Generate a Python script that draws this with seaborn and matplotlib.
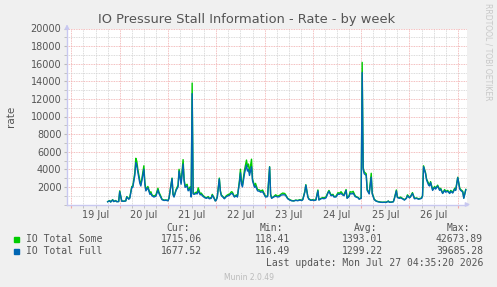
import pandas as pd
import numpy as np
import matplotlib
matplotlib.use("Agg")
import matplotlib.pyplot as plt
import matplotlib.dates as mdates
from matplotlib.ticker import MultipleLocator, FuncFormatter
from matplotlib.patches import Rectangle
import seaborn as sns

# Datos (horas desde 19 Jul 00:00)
hours = [18, 19, 19.5, 20.5, 21, 22, 22.5, 23.5, 24, 25, 26, 27, 27.5, 28.5, 29, 30, 30.5, 31.5, 32, 32.5,
         33, 34, 34.5, 35, 36, 36.5, 37, 38, 39, 39.5, 40, 41, 42, 43, 43.5, 44.5, 45, 46, 47, 48,
         48.5, 50, 50.5, 51, 52, 53, 53.5, 54.5, 55.5, 56, 56.5, 57.5, 58, 59, 59.5, 60, 60.5, 61, 62, 62.5,
         63, 64, 64.5, 65.5, 66, 67, 68, 68.5, 69.5, 70, 71, 71.5, 72, 72.5, 73.5, 74, 74.5, 75.5, 76, 77,
         78, 78.5, 79.5, 80, 81, 82, 82.5, 83.5, 84, 84.5, 85, 86, 87, 87.5, 88, 88.5, 89.5, 90, 91, 91.5,
         92.5, 93.5, 94, 95, 96, 96.5, 97.5, 98.5, 99, 99.5, 100.5, 101.5, 102.5, 103.5, 104, 105, 106, 106.5, 107.5, 108.5,
         109.5, 110.5, 111.5, 112.5, 113.5, 114.5, 115, 116, 116.5, 117.5, 118, 119, 120, 120.5, 121.5, 122.5, 123, 124, 125, 125.5,
         126.5, 127.5, 128, 129, 130, 130.5, 131.5, 132.5, 133, 134, 135, 135.5, 136.5, 137, 138, 138.5, 139.5, 140, 141, 141.5,
         142.5, 143, 144, 144.5, 145, 145.5, 146.5, 147, 148, 149, 149.5, 150.5, 151.5, 152.5, 153.5, 154.5, 155.5, 156.5, 157.5, 158,
         159, 160, 160.5, 161.5, 162, 163, 163.5, 164.5, 165.5, 166.5, 167, 168, 168.5, 169.5, 170.5, 171.5, 172.5, 173.5, 174, 174.5,
         175, 176, 176.5, 177.5, 178, 178.5, 179.5, 180.5, 181, 182, 183, 183.5, 184.5, 185.5, 186, 187, 188, 188.5, 189.5, 190.5,
         191, 192, 193, 193.5, 194.5, 195, 196]

io_some = [330, 450, 300, 550, 350, 450, 330, 350, 1550, 400, 380, 420, 900, 650, 800, 2050, 2100, 3600, 5250, 4900,
           4000, 2700, 2300, 2900, 4400, 2500, 1700, 2050, 1300, 1450, 1100, 950, 1100, 1850, 1400, 900, 600, 500, 520, 450,
           750, 3000, 1200, 900, 1700, 2200, 4000, 2500, 5100, 2900, 2100, 2300, 1700, 2000, 900, 13800, 1300, 1250, 1400, 1300,
           1900, 1200, 1300, 1000, 900, 750, 900, 700, 800, 1150, 700, 420, 550, 900, 3000, 1600, 1100, 850, 700, 1000,
           1150, 1150, 1450, 1400, 900, 1100, 900, 2700, 4000, 2600, 2200, 3900, 5050, 4300, 4600, 3600, 5150, 2900, 2100, 2400,
           1700, 1650, 1500, 1650, 1150, 900, 1000, 4300, 1200, 750, 900, 1100, 950, 1050, 1150, 1300, 1250, 1100, 700, 550,
           450, 420, 500, 460, 550, 480, 600, 1500, 2250, 900, 650, 500, 550, 480, 550, 1650, 550, 700, 800, 750,
           850, 1400, 1600, 1100, 1150, 900, 950, 1350, 1250, 1450, 1150, 1100, 1700, 750, 1000, 1450, 1400, 1500, 1000, 900,
           800, 650, 750, 16150, 4200, 3700, 3500, 1700, 1300, 3550, 1300, 600, 400, 330, 280, 260, 270, 260, 400, 270,
           280, 330, 700, 1650, 850, 750, 850, 700, 550, 750, 1100, 800, 900, 1350, 700, 750, 650, 700, 750, 1000,
           4400, 3600, 2900, 2400, 2200, 2600, 1700, 2050, 1850, 2200, 1700, 1850, 1300, 1700, 1500, 1600, 1300, 1600, 1400, 1850,
           1700, 3100, 1850, 1700, 1500, 750, 1715]

io_full = [310, 420, 280, 520, 330, 420, 320, 330, 1450, 380, 360, 400, 850, 600, 700, 1950, 1950, 3300, 4750, 4400,
           3700, 2400, 2100, 2700, 4000, 2300, 1550, 1900, 1150, 1250, 1000, 850, 950, 1650, 1250, 800, 550, 460, 480, 420,
           700, 2950, 1100, 850, 1600, 2000, 3800, 2300, 4600, 2700, 1950, 2100, 1550, 1800, 850, 12600, 1200, 1150, 1250, 1200,
           1550, 1100, 1150, 900, 820, 700, 800, 650, 700, 1050, 650, 400, 500, 850, 2900, 1500, 1000, 800, 650, 900,
           1000, 1050, 1250, 1250, 850, 1000, 850, 2500, 3600, 2300, 2000, 3500, 4500, 3800, 4000, 3300, 4300, 2700, 1950, 2100,
           1550, 1500, 1400, 1450, 1050, 850, 900, 4250, 1100, 700, 850, 950, 850, 900, 1050, 1100, 1100, 1000, 650, 500,
           420, 400, 470, 430, 500, 450, 550, 1400, 2200, 850, 600, 470, 500, 450, 500, 1550, 500, 650, 700, 650,
           750, 1300, 1500, 1000, 1050, 850, 850, 1200, 1150, 1250, 1050, 1000, 1600, 700, 900, 1250, 1200, 1300, 900, 850,
           750, 600, 700, 15000, 4000, 3500, 3300, 1600, 1200, 3100, 1200, 550, 370, 300, 260, 240, 250, 240, 370, 250,
           260, 300, 650, 1550, 800, 700, 750, 650, 500, 700, 1000, 750, 850, 1250, 650, 700, 600, 650, 700, 950,
           4300, 3500, 2800, 2200, 2100, 2500, 1600, 1950, 1750, 2100, 1600, 1750, 1250, 1600, 1400, 1500, 1250, 1500, 1300, 1750,
           1600, 3050, 1750, 1600, 1400, 700, 1677]

series_names = ["IO Total Some", "IO Total Full"]
series_colors = ["#00CC00", "#0066B3"]
col_headers = ["Cur:", "Min:", "Avg:", "Max:"]
stats_some = ["1715.06", "118.41", "1393.01", "42673.89"]
stats_full = ["1677.52", "116.49", "1299.22", "39685.28"]
y_ticks = [2000, 4000, 6000, 8000, 10000, 12000, 14000, 16000, 18000, 20000]

start = pd.Timestamp("2026-07-19 00:00")
t = start + pd.to_timedelta(hours, unit="h")
df = pd.concat([
    pd.DataFrame({"time": t, "rate": io_some, "serie": series_names[0]}),
    pd.DataFrame({"time": t, "rate": io_full, "serie": series_names[1]}),
])

bg = "#F0F0F0"
txt = "#555555"
W, H = 497, 287
fig = plt.figure(figsize=(W / 100, H / 100), dpi=100, facecolor=bg)
ax = fig.add_axes([67 / W, (H - 204.5) / H, 400 / W, 176 / H])
ax.set_facecolor("white")

sns.lineplot(data=df, x="time", y="rate", hue="serie", hue_order=series_names,
             palette=series_colors, linewidth=1.0, legend=False, ax=ax)

ax.set_ylim(0, 20000)
ax.set_xlim(start + pd.Timedelta(hours=-2.2), start + pd.Timedelta(hours=196.6))

# Rejilla estilo munin
ax.set_yticks(y_ticks)
ax.yaxis.set_minor_locator(MultipleLocator(1000))
ax.xaxis.set_major_locator(mdates.DayLocator())
ax.xaxis.set_major_formatter(FuncFormatter(lambda v, p: ""))
ax.xaxis.set_minor_locator(mdates.HourLocator(byhour=[6, 12, 18]))
ax.xaxis.set_minor_formatter(FuncFormatter(
    lambda v, p: mdates.num2date(v).strftime("%d %b") if mdates.num2date(v).hour == 12 else ""))
ax.grid(which="minor", color="#cfcfcf", linestyle=(0, (1, 1)), linewidth=0.6)
ax.grid(which="major", color="#f0a8a8", linestyle=(0, (1, 1)), linewidth=0.6)
ax.set_axisbelow(True)

ax.tick_params(axis="y", which="both", labelsize=7, labelcolor=txt, length=2, pad=2, color="#bbbbbb")
ax.tick_params(axis="x", which="major", length=2, color="#f0a8a8")
ax.tick_params(axis="x", which="minor", labelsize=7, labelcolor=txt, length=2, pad=2, color="#bbbbbb")

for s in ["top", "right"]:
    ax.spines[s].set_visible(False)
for s in ["left", "bottom"]:
    ax.spines[s].set_color("#c8c8f0")
    ax.spines[s].set_linewidth(1.0)
ax.annotate("", xy=(0, 1.04), xytext=(0, 0.99), xycoords="axes fraction",
            arrowprops=dict(arrowstyle="-|>", color="#c8c8f0", lw=1, mutation_scale=6))
ax.annotate("", xy=(1.015, 0), xytext=(0.99, 0), xycoords="axes fraction",
            arrowprops=dict(arrowstyle="-|>", color="#c8c8f0", lw=1, mutation_scale=6))

ax.set_xlabel("")
ax.set_ylabel("")
fig.text(11 / W, 1 - 116 / H, "rate", rotation=90, ha="center", va="center", fontsize=7.5, color=txt)
fig.text(247 / W, 1 - 19.5 / H, "IO Pressure Stall Information - Rate - by week",
         ha="center", va="center", fontsize=9.4, color=txt)
fig.text(488 / W, 1 - 52 / H, "RRDTOOL / TOBI OETIKER", rotation=270, ha="center", va="center",
         fontsize=5.5, color="#c8c8c8")

# Leyenda
mono = "DejaVu Sans Mono"
head_x = [190, 283, 377, 470]
val_x = [202, 290, 383, 483]
for h, x in zip(col_headers, head_x):
    fig.text(x / W, 1 - 228 / H, h, ha="right", va="center", fontsize=7, family=mono, color=txt)
for row_y, name, col, vals in [(239.5, series_names[0], series_colors[0], stats_some),
                               (251, series_names[1], series_colors[1], stats_full)]:
    fig.patches.append(Rectangle((14 / W, 1 - (row_y + 2.5) / H), 5 / W, 5 / H,
                                 transform=fig.transFigure, color=col))
    fig.text(26 / W, 1 - row_y / H, name, ha="left", va="center", fontsize=7, family=mono, color=txt)
    for v, x in zip(vals, val_x):
        fig.text(x / W, 1 - row_y / H, v, ha="right", va="center", fontsize=7, family=mono, color=txt)
fig.text(483 / W, 1 - 263 / H, "Last update: Mon Jul 27 04:35:20 2026", ha="right", va="center",
         fontsize=7, family=mono, color=txt)
fig.text(249 / W, 1 - 277 / H, "Munin 2.0.49", ha="center", va="center", fontsize=5.5, color="#bbbbbb")

fig.savefig("out.png", dpi=100, facecolor=bg)
